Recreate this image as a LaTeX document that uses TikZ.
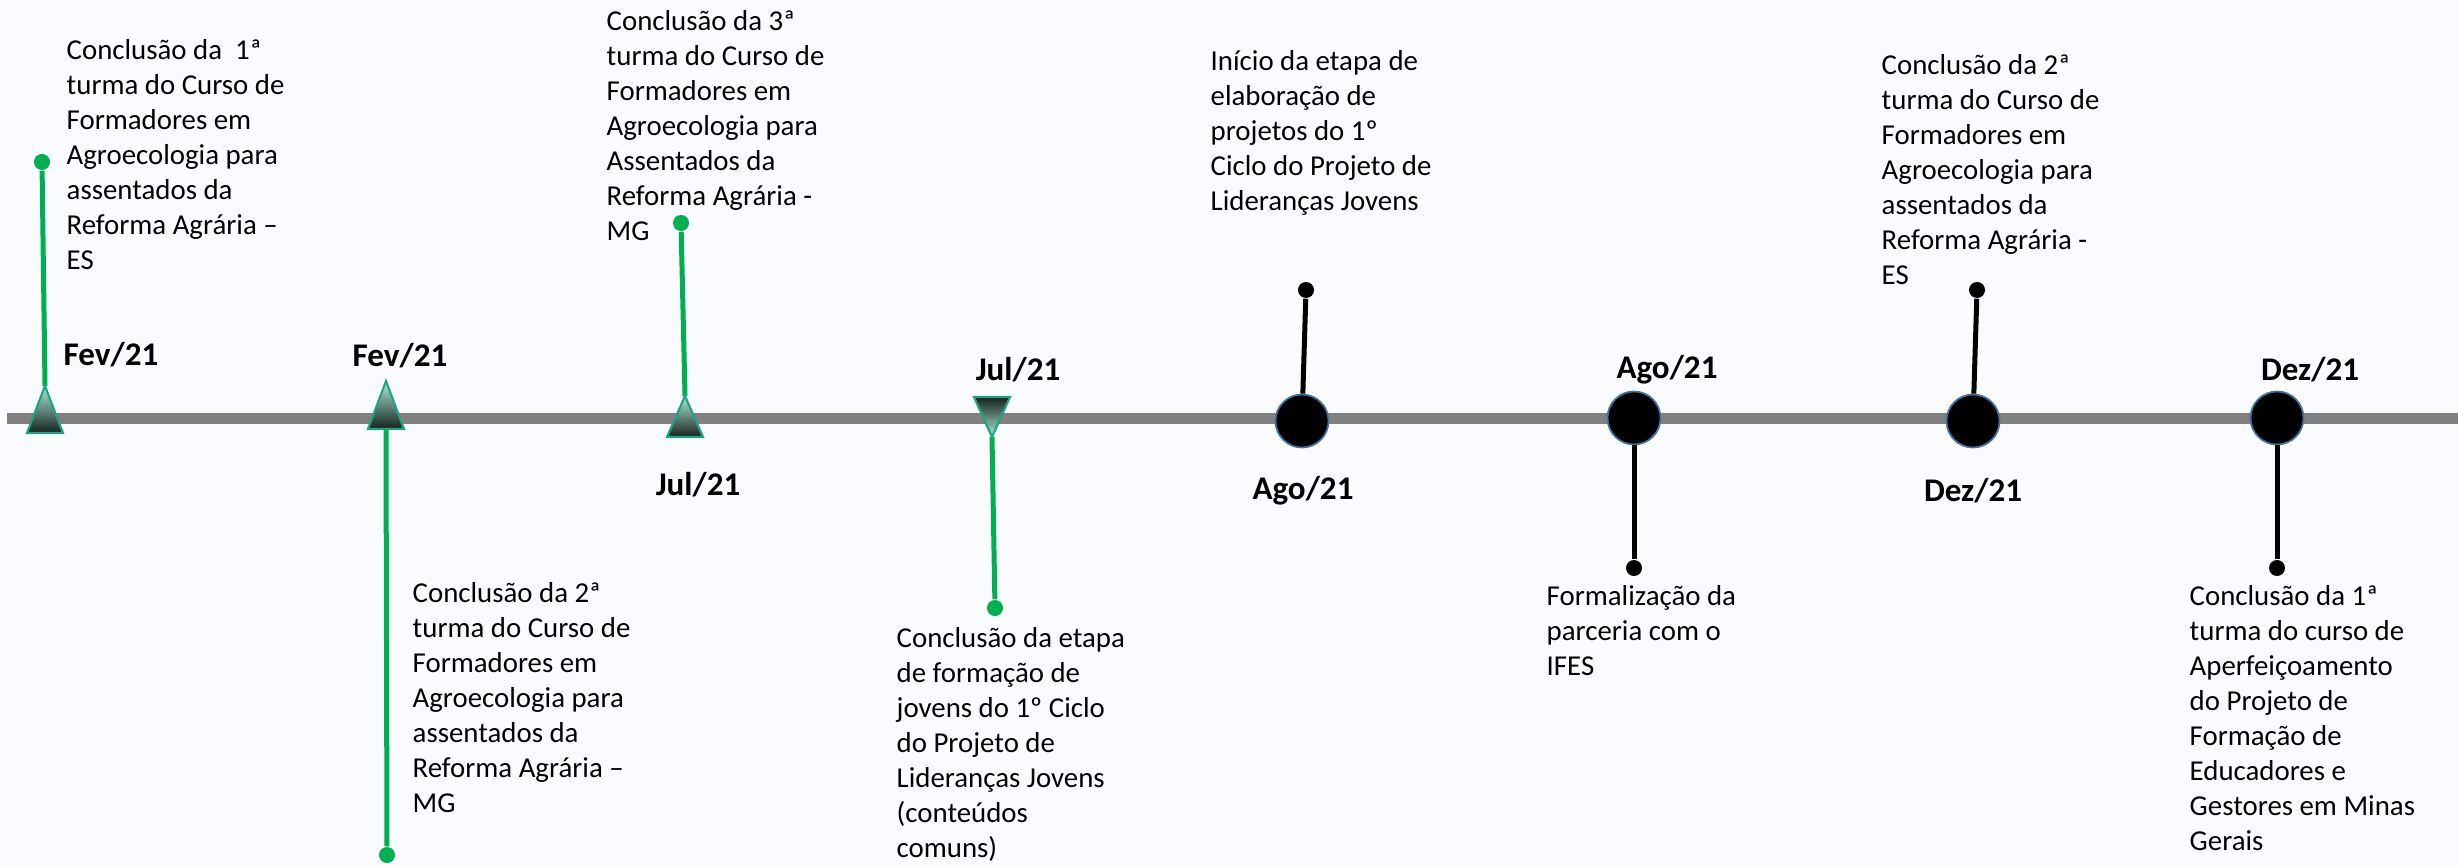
\documentclass[tikz,border=0pt]{standalone}
\usepackage{fontspec}
\setmainfont{Carlito}
\usepackage{tikz}
\definecolor{pagebg}{HTML}{FAFBFE}
\definecolor{axisgray}{HTML}{808080}
\definecolor{stemgreen}{HTML}{00B050}
\definecolor{mintlight}{HTML}{ACEDD6}
\definecolor{mintmid}{HTML}{5FA893}
\definecolor{tealdark}{HTML}{16221E}
\definecolor{tealedge}{HTML}{1FA386}
\definecolor{ringblue}{HTML}{41719C}
\tikzset{
    axis/.style={axisgray, line width=0.11cm},
    stemline/.style={#1, line width=0.05cm},
    tipdot/.style={circle, fill=#1, minimum size=0.16cm, inner sep=0pt},
    event/.style={circle, fill=black, draw=ringblue, line width=0.5pt, minimum size=0.53cm, inner sep=0pt},
    triup/.style={draw=tealedge, line width=0.6pt, top color=mintlight, middle color=mintmid, bottom color=tealdark},
    tridown/.style={draw=tealedge, line width=0.6pt, top color=tealdark, middle color=mintmid, bottom color=mintlight},
    datelabel/.style={font=\fontsize{9.4}{11}\selectfont\bfseries},
    eventtext/.style={anchor=north west, align=left, inner sep=0pt, font=\fontsize{8.2}{9.96}\selectfont}
}

\begin{document}
\begin{tikzpicture}[x=0.01cm, y=-0.01cm]
            \useasboundingbox[fill=pagebg] (0,0) rectangle (2458,867);
            \draw[axis] (7,418) -- (2458,418);

            \node[tipdot=stemgreen] (p1) at (42,162) {};
            \coordinate (m1) at (45,386);
            \draw[stemline=stemgreen] (p1) -- (m1);
            \shadedraw[triup] (m1) -- ++(-18,47) -- ++(36,0) -- cycle;
            \node[datelabel] (d1) at (111,355) {Fev/21};
            \node[eventtext] (n1) at (66,39) {Conclusão da~~1ª\\turma do Curso de\\Formadores em\\Agroecologia para\\assentados da\\Reforma Agrária –\\ES};

            \node[tipdot=stemgreen] (p2) at (387,855) {};
            \coordinate (m2) at (386,429);
            \draw[stemline=stemgreen] (m2) -- (p2);
            \shadedraw[triup] (m2) -- ++(-18,0) -- ++(18,-48) -- ++(18,48) -- cycle;
            \node[datelabel] (d2) at (400,356) {Fev/21};
            \node[eventtext] (n2) at (412,582) {Conclusão da 2ª\\turma do Curso de\\Formadores em\\Agroecologia para\\assentados da\\Reforma Agrária –\\MG};

            \node[tipdot=stemgreen] (p3) at (681,223) {};
            \coordinate (m3) at (685,396);
            \draw[stemline=stemgreen] (p3) -- (m3);
            \shadedraw[triup] (m3) -- ++(-18,41) -- ++(36,0) -- cycle;
            \node[datelabel] (d3) at (698,485) {Jul/21};
            \node[eventtext] (n3) at (606,10) {Conclusão da 3ª\\turma do Curso de\\Formadores em\\Agroecologia para\\Assentados da\\Reforma Agrária -\\MG};

            \node[tipdot=stemgreen] (p4) at (995,608) {};
            \coordinate (m4) at (992,437);
            \draw[stemline=stemgreen] (m4) -- (p4);
            \shadedraw[tridown] (m4) -- ++(-18,-40) -- ++(36,0) -- cycle;
            \node[datelabel] (d4) at (1018,370) {Jul/21};
            \node[eventtext] (n4) at (896,627) {Conclusão da etapa\\de formação de\\jovens do 1º Ciclo\\do Projeto de\\Lideranças Jovens\\(conteúdos\\comuns)};

            \node[tipdot=black] (p5) at (1306,290) {};
            \node[event] (m5) at (1302,421) {};
            \draw[stemline=black] (p5) -- (m5);
            \node[datelabel] (d5) at (1303,491) {Ago/21};
            \node[eventtext] (n5) at (1210,50) {Início da etapa de\\elaboração de\\projetos do 1º\\Ciclo do Projeto de\\Lideranças Jovens};

            \node[tipdot=black] (p6) at (1634,568) {};
            \node[event] (m6) at (1634,418) {};
            \draw[stemline=black] (m6) -- (p6);
            \node[datelabel] (d6) at (1667,370) {Ago/21};
            \node[eventtext] (n6) at (1546,585) {Formalização da\\parceria com o\\IFES};

            \node[tipdot=black] (p7) at (1977,290) {};
            \node[event] (m7) at (1973,421) {};
            \draw[stemline=black] (p7) -- (m7);
            \node[datelabel] (d7) at (1973,491) {Dez/21};
            \node[eventtext] (n7) at (1881,54) {Conclusão da 2ª\\turma do Curso de\\Formadores em\\Agroecologia para\\assentados da\\Reforma Agrária -\\ES};

            \node[tipdot=black] (p8) at (2277,568) {};
            \node[event] (m8) at (2277,418) {};
            \draw[stemline=black] (m8) -- (p8);
            \node[datelabel] (d8) at (2310,370) {Dez/21};
            \node[eventtext] (n8) at (2189,585) {Conclusão da 1ª\\turma do curso de\\Aperfeiçoamento\\do Projeto de\\Formação de\\Educadores e\\Gestores em Minas\\Gerais};
\end{tikzpicture}
\end{document}
